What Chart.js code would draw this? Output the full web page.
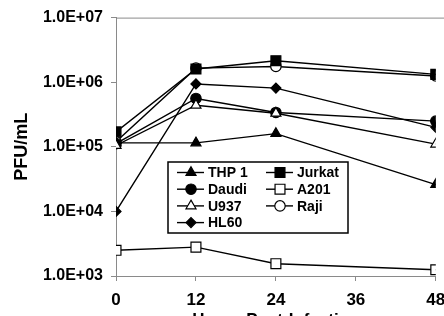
<!DOCTYPE html>
<html>
<head>
<meta charset="utf-8">
<script src="https://cdn.jsdelivr.net/npm/chart.js@4.4.1/dist/chart.umd.min.js"></script>
<style>
    html, body { margin: 0; padding: 0; background: #fff; overflow: hidden; }
    #wrap { position: relative; width: 444px; height: 316px; overflow: hidden; }
    #wrap canvas { position: absolute; left: 0; top: 0; }
</style>
</head>
<body>
<div id="wrap"><canvas id="pfuChart" width="444" height="331"></canvas></div>
<script>
// Chart data
const hours = [0, 12, 24, 48];
const thp1 = [1.15e5, 1.15e5, 1.6e5, 2.6e4];
const jurkat = [1.7e5, 1.6e6, 2.15e6, 1.32e6];
const daudi = [1.12e5, 5.6e5, 3.4e5, 2.5e5];
const a201 = [2.5e3, 2.8e3, 1.55e3, 1.25e3];
const u937 = [1.05e5, 4.4e5, 3.3e5, 1.1e5];
const raji = [1.2e5, 1.65e6, 1.75e6, 1.25e6];
const hl60 = [1.0e4, 9.4e5, 8.1e5, 2.0e5];
const yTicks = [1e3, 1e4, 1e5, 1e6, 1e7];
const yTickLabels = ['1.0E+03', '1.0E+04', '1.0E+05', '1.0E+06', '1.0E+07'];
const xTicks = [0, 12, 24, 36, 48];

const FONT = "'Liberation Sans', Arial, sans-serif";
const AXIS_GREY = '#8a8a8a';

function series(label, values, style, radius, fill) {
    return {
        label: label,
        data: hours.map((h, i) => ({ x: h, y: values[i] })),
        borderColor: '#000',
        borderWidth: 1.4,
        pointStyle: style,
        pointRadius: radius,
        pointBorderWidth: 1.2,
        pointBorderColor: '#000',
        pointBackgroundColor: fill,
        tension: 0
    };
}

const datasets = [
    series('A201', a201, 'rect', 7, '#fff'),
    series('U937', u937, 'triangle', 5.8, '#fff'),
    series('THP 1', thp1, 'triangle', 5.8, '#000'),
    series('HL60', hl60, 'rectRot', 5, '#000'),
    series('Daudi', daudi, 'circle', 5.2, '#000'),
    series('Jurkat', jurkat, 'rect', 7, '#000'),
    series('Raji', raji, 'circle', 5.2, '#fff')
];

// Legend layout: two columns, drawn inside the plot
const legendCols = [['THP 1', 'Daudi', 'U937', 'HL60'], ['Jurkat', 'A201', 'Raji']];

const boxLegend = {
    id: 'boxLegend',
    afterDraw(chart) {
        const ctx = chart.ctx;
        ctx.save();
        ctx.strokeStyle = '#000';
        ctx.lineWidth = 1.5;
        ctx.strokeRect(168, 162, 180, 71);
        ctx.font = 'bold 14px ' + FONT;
        ctx.textBaseline = 'middle';
        ctx.fillStyle = '#000';
        const colX = [177, 266];
        legendCols.forEach((col, c) => {
            col.forEach((name, r) => {
                const ds = chart.data.datasets.find(d => d.label === name);
                const y = 172.5 + r * 16.7;
                const x0 = colX[c];
                ctx.beginPath();
                ctx.strokeStyle = '#000';
                ctx.lineWidth = 1.4;
                ctx.moveTo(x0, y);
                ctx.lineTo(x0 + 27, y);
                ctx.stroke();
                ctx.fillStyle = ds.pointBackgroundColor;
                ctx.strokeStyle = '#000';
                ctx.lineWidth = 1.2;
                Chart.helpers.drawPoint(ctx, { pointStyle: ds.pointStyle, radius: ds.pointRadius, borderWidth: 1.2 }, x0 + 14, y);
                ctx.fillStyle = '#000';
                ctx.fillText(name, x0 + 31, y + 1);
            });
        });
        ctx.restore();
    }
};

// Grey frame line across the top of the plot
const topLine = {
    id: 'topLine',
    beforeDatasetsDraw(chart) {
        const a = chart.chartArea;
        const ctx = chart.ctx;
        ctx.save();
        ctx.strokeStyle = AXIS_GREY;
        ctx.lineWidth = 1;
        ctx.beginPath();
        ctx.moveTo(a.left, a.top + 0.5);
        ctx.lineTo(a.right + 10, a.top + 0.5);
        ctx.stroke();
        ctx.restore();
    }
};

new Chart(document.getElementById('pfuChart').getContext('2d'), {
    type: 'line',
    data: { datasets: datasets },
    plugins: [topLine, boxLegend],
    options: {
        responsive: false,
        animation: false,
        layout: { padding: { top: 16, right: 5, left: 11, bottom: 0 } },
        plugins: {
            legend: { display: false },
            tooltip: { enabled: false }
        },
        scales: {
            x: {
                type: 'linear',
                min: 0,
                max: 48,
                afterBuildTicks(scale) {
                    scale.ticks = xTicks.map(v => ({ value: v }));
                },
                afterFit(scale) {
                    scale.height = 55;
                    scale.paddingLeft = 0;
                    scale.paddingRight = 0;
                },
                border: { color: AXIS_GREY, width: 1 },
                grid: { drawOnChartArea: false, color: AXIS_GREY, tickLength: 5 },
                ticks: {
                    color: '#000',
                    padding: 9,
                    maxRotation: 0,
                    font: { family: FONT, size: 17, weight: 'bold' }
                },
                title: {
                    display: true,
                    text: 'Hours Post-Infection',
                    color: '#000',
                    padding: { top: 4, bottom: 0 },
                    font: { family: FONT, size: 17, weight: 'bold' }
                }
            },
            y: {
                type: 'logarithmic',
                min: 1e3,
                max: 1e7,
                afterBuildTicks(scale) {
                    scale.ticks = yTicks.map(v => ({ value: v }));
                },
                afterFit(scale) {
                    scale.width = 105;
                },
                border: { color: AXIS_GREY, width: 1 },
                grid: { drawOnChartArea: false, color: AXIS_GREY, tickLength: 5 },
                ticks: {
                    color: '#000',
                    padding: 8,
                    font: { family: FONT, size: 16, weight: 'bold' },
                    callback: function(value) {
                        const i = yTicks.indexOf(value);
                        return i >= 0 ? yTickLabels[i] : '';
                    }
                },
                title: {
                    display: true,
                    text: 'PFU/mL',
                    color: '#000',
                    padding: { top: 0, bottom: 4 },
                    font: { family: FONT, size: 18, weight: 'bold' }
                }
            }
        }
    }
});
</script>
</body>
</html>
